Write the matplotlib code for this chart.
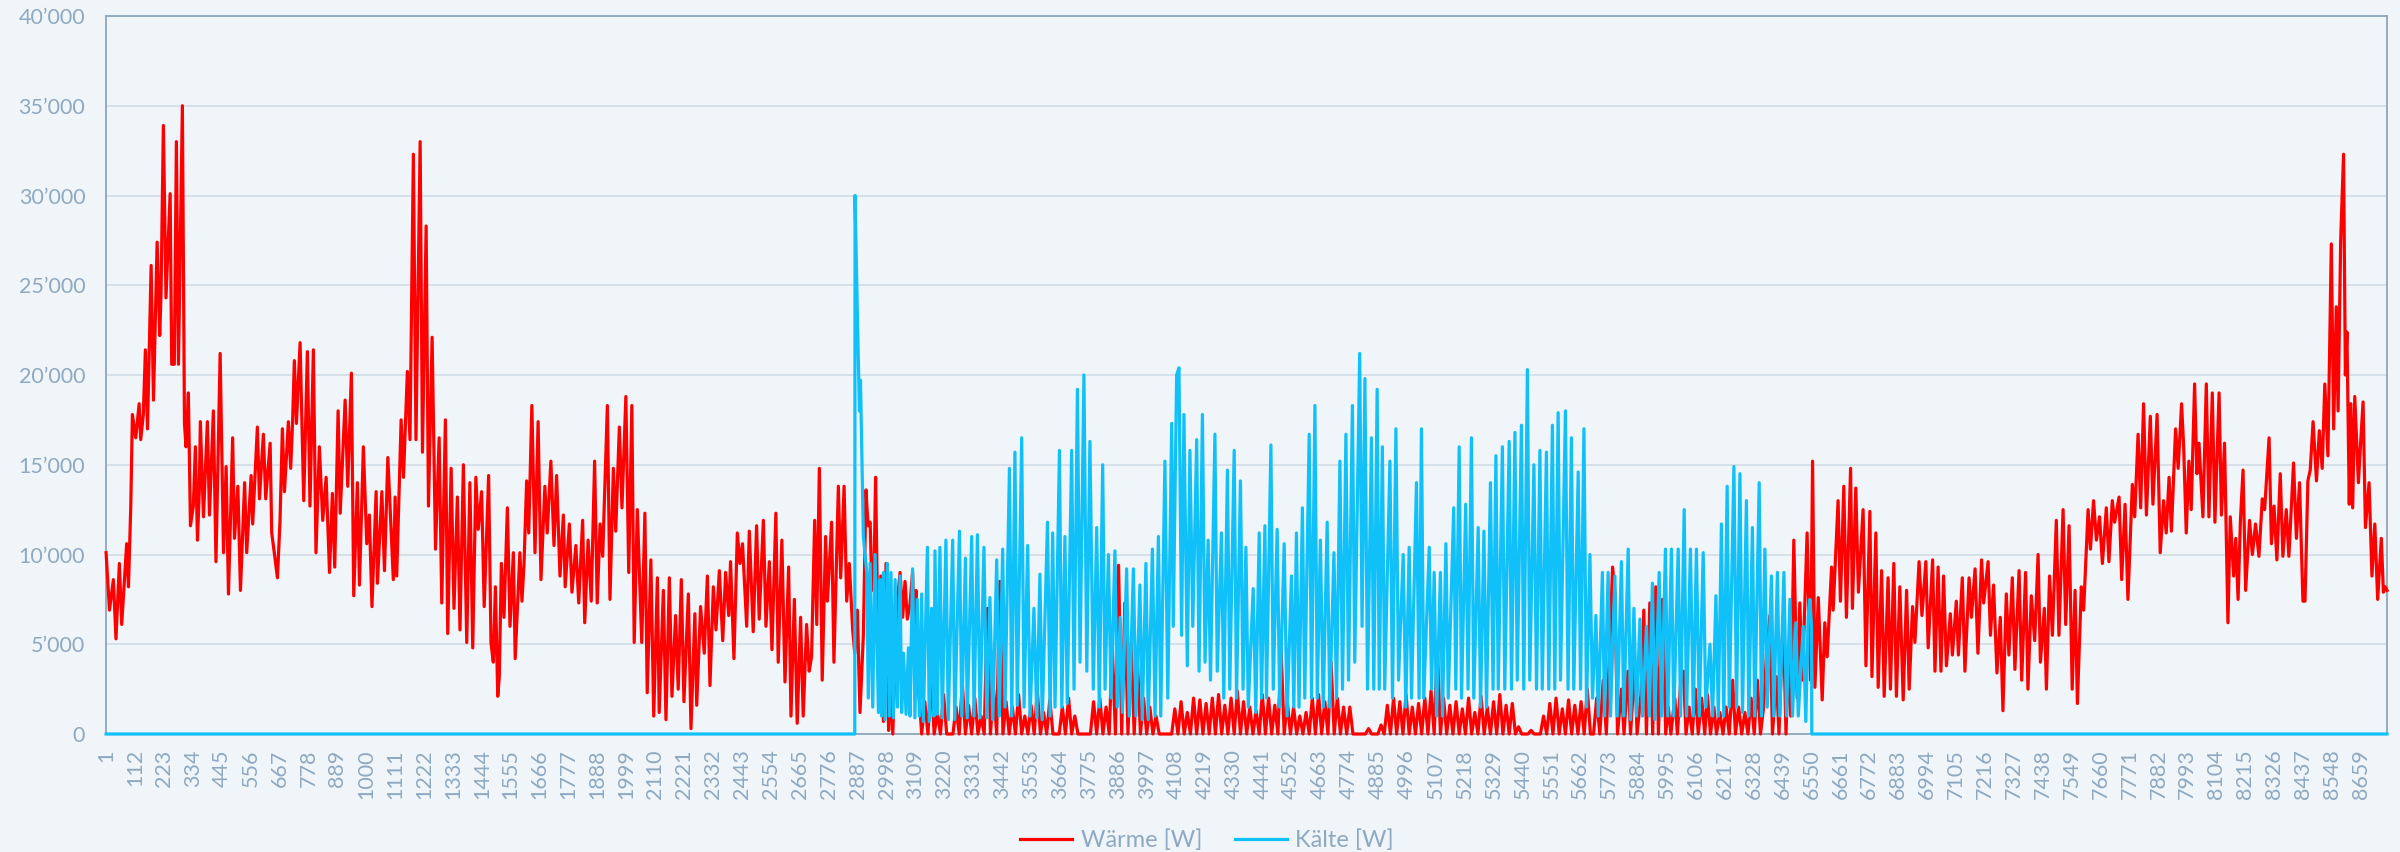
import matplotlib
matplotlib.use("Agg")
import matplotlib.pyplot as plt
import matplotlib.ticker as mticker
import numpy as np

plt.rcParams['font.family'] = ['Lato', 'DejaVu Sans']

fnt = 15.5
legend_fnt = 17
bg = '#f0f5f9'
txt_col = '#8ea9c1'
grid_col = '#d0dce6'
spine_col = '#8ea7bb'
rot = '#ff0000'
blau = '#10c0f8'

# Heizlast [W] (Stunde, Wert), Januar bis Ende April
waerme_winter = [
    (1, 10100), (14, 6900), (23, 7900), (29, 8600), (39, 5300), (52, 9500), (61, 6100), (80, 10600),
    (87, 8200), (96, 12800), (102, 17800), (115, 16500), (128, 18400), (134, 16400), (144, 17800),
    (152, 21400), (160, 17000), (174, 26100), (183, 18600), (197, 27400), (207, 22200), (212, 24500),
    (221, 33900), (231, 24300), (247, 30100), (253, 20600), (263, 20600), (271, 33000), (279, 20600),
    (294, 35000), (302, 17300), (308, 16000), (317, 19000), (325, 11600), (336, 12700), (344, 16000),
    (352, 10800), (359, 13600), (363, 17400), (375, 12100), (390, 17400), (398, 12200), (413, 18000),
    (423, 9600), (439, 21200), (452, 10100), (462, 14900), (471, 7800), (487, 16500), (494, 10900),
    (507, 13800), (517, 8000), (533, 14000), (541, 10100), (558, 14400), (564, 11700), (582, 17100),
    (590, 13100), (605, 16700), (614, 13100), (631, 16200), (637, 11200), (647, 10100), (659, 8700),
    (669, 11900), (678, 17000), (686, 13500), (701, 17400), (710, 14800), (717, 17300), (724, 20800),
    (732, 17300), (746, 21800), (760, 13000), (774, 21300), (784, 12700), (797, 21400), (807, 10100),
    (820, 16000), (833, 11900), (846, 14300), (859, 9000), (870, 13400), (879, 9300), (892, 18000),
    (900, 12300), (919, 18600), (929, 13800), (943, 20100), (952, 7700), (966, 14000), (974, 8300),
    (989, 16000), (1002, 10600), (1012, 12200), (1022, 7100), (1038, 13500), (1043, 8400),
    (1060, 13500), (1070, 9100), (1083, 15400), (1104, 8600), (1111, 13200), (1117, 8800),
    (1134, 17500), (1143, 14300), (1158, 20200), (1168, 16400), (1181, 32300), (1191, 16400),
    (1207, 33000), (1216, 15700), (1230, 28300), (1239, 12700), (1253, 22100), (1266, 10300),
    (1280, 16500), (1290, 7300), (1304, 17500), (1313, 5600), (1326, 14800), (1337, 7000),
    (1350, 13200), (1360, 5800), (1373, 15000), (1386, 5100), (1398, 14000), (1409, 4800),
    (1421, 14300), (1430, 11400), (1443, 13500), (1453, 7100), (1470, 14400), (1479, 5100),
    (1488, 4000), (1496, 8200), (1505, 2100), (1511, 3200), (1519, 9500), (1529, 6500),
    (1542, 12600), (1552, 6000), (1565, 10100), (1572, 4200), (1590, 10100), (1598, 7400),
    (1606, 9500), (1616, 14100), (1624, 11200), (1636, 18300), (1648, 10100), (1660, 17400),
    (1671, 8600), (1686, 13800), (1695, 11200), (1709, 15200), (1721, 10500), (1731, 14400),
    (1744, 8800), (1757, 12200), (1764, 8200), (1780, 11700), (1790, 7900), (1805, 10500),
    (1816, 7300), (1831, 11900), (1839, 6200), (1852, 10800), (1864, 7400), (1877, 15200),
    (1887, 7300), (1898, 11700), (1908, 9900), (1926, 18300), (1936, 7500), (1949, 14800),
    (1958, 11300), (1972, 17100), (1982, 12600), (1997, 18800), (2008, 9000), (2020, 18300),
    (2029, 5100), (2041, 12500), (2058, 5100), (2070, 12300), (2079, 2300), (2093, 9700),
    (2104, 1000), (2118, 8700), (2125, 1200), (2141, 8000), (2151, 800), (2164, 8700), (2174, 2100),
    (2188, 6600), (2198, 2500), (2210, 8600), (2220, 1800), (2237, 7800), (2247, 300), (2262, 6700),
    (2269, 1600), (2284, 7100), (2298, 4500), (2310, 8800), (2320, 2700), (2333, 8200), (2343, 5800),
    (2356, 9100), (2369, 5200), (2380, 9000), (2392, 6600), (2399, 9600), (2412, 4200),
    (2425, 11200), (2435, 9500), (2445, 10600), (2461, 6000), (2471, 11300), (2486, 5700),
    (2499, 11600), (2509, 6400), (2525, 11900), (2535, 6000), (2548, 9600), (2558, 4700),
    (2573, 12300), (2582, 4000), (2596, 10800), (2608, 2900), (2622, 9300), (2631, 1000),
    (2644, 7500), (2655, 600), (2668, 6500), (2678, 1000), (2691, 6100), (2701, 3500), (2710, 4300),
    (2722, 11900), (2730, 6100), (2740, 14800), (2751, 3000), (2764, 11000), (2771, 7400),
    (2787, 11800), (2796, 4000), (2813, 13800), (2822, 8700), (2835, 13800), (2845, 7400),
    (2855, 9500), (2868, 5800), (2876, 4500), (2886, 6900), (2896, 1200), (2909, 5500),
    (2919, 13600), (2927, 11600), (2935, 11800), (2942, 8000), (2950, 9000), (2956, 14300),
    (2967, 3500), (2976, 8800), (2986, 700), (2996, 9500), (3006, 200), (3014, 3000), (3022, 0),
    (3037, 7000), (3050, 9000), (3060, 6500), (3069, 8500), (3078, 6400), (3088, 7200),
    (3098, 9000), (3107, 4300), (3111, 8000),
]

# Sommer: Heizspitze am Morgen, danach 0 (12-h-Raster ab Stunde 3121)
waerme_sommer = [
    2500, 0, 1800, 0, 3000, 0, 1200, 0, 2200, 0, 0, 0, 1500, 0, 2800, 0, 1600, 0, 2000, 0,
    1000, 0, 7000, 0, 2500, 0, 8500, 0, 1800, 0, 1500, 0, 2200, 0, 1000, 0, 1600, 0, 2400, 0,
    1200, 0, 1900, 0, 0, 0, 1500, 0, 2000, 0, 1000, 0, 0, 0, 0, 0, 1800, 0, 2000, 0,
    1500, 0, 4800, 0, 9400, 0, 7300, 0, 5000, 0, 4200, 0, 2000, 0, 1500, 0, 1000, 0, 0, 0,
    0, 0, 1400, 0, 1800, 0, 1200, 0, 2000, 0, 1900, 0, 1700, 0, 2000, 0, 2200, 0, 1600, 0,
    2000, 0, 2400, 0, 1800, 0, 1500, 0, 1300, 0, 2200, 0, 2000, 0, 1600, 0, 4700, 0, 1800, 0,
    1500, 0, 1000, 0, 1200, 0, 2000, 0, 2200, 0, 1800, 0, 4000, 0, 2000, 0, 1500, 0, 1500, 0,
    0, 0, 0, 0, 300, 0, 0, 0, 500, 0, 1600, 0, 2000, 0, 1800, 0, 2200, 0, 1500, 0,
    1700, 0, 2000, 0, 2400, 0, 4800, 0, 2000, 0, 1600, 0, 1800, 0, 1400, 0, 2000, 0, 1200, 0,
    2100, 0, 1500, 0, 1800, 0, 2200, 0, 1600, 0, 1700, 0, 400, 0, 0, 0, 200, 0, 0, 0,
    1000, 0, 1700, 0, 2000, 0, 1400, 0, 1900, 0, 1600, 0, 1800, 0, 2500, 0,
]

# Herbst und Dezember
waerme_herbst = [
    (5713, 0), (5725, 2000), (5737, 0), (5750, 3000), (5762, 0), (5776, 5100), (5786, 9300),
    (5795, 7900), (5805, 0), (5820, 2500), (5830, 0), (5845, 3500), (5855, 0), (5872, 4000),
    (5880, 0), (5895, 2200), (5906, 6900), (5916, 0), (5929, 7300), (5940, 0), (5952, 8200),
    (5962, 0), (5978, 7500), (5990, 0), (6000, 1500), (6010, 0), (6025, 2000), (6035, 0),
    (6048, 3000), (6058, 3500), (6068, 0), (6080, 1500), (6092, 0), (6104, 2500), (6115, 0),
    (6128, 2000), (6140, 0), (6150, 2200), (6162, 0), (6175, 1500), (6185, 0), (6198, 1200),
    (6210, 0), (6222, 1500), (6234, 0), (6247, 3000), (6258, 0), (6270, 1500), (6282, 0),
    (6294, 1200), (6306, 0), (6318, 2000), (6330, 0), (6342, 3000), (6354, 0), (6366, 1500),
    (6377, 4500), (6390, 6600), (6400, 0), (6415, 3200), (6425, 0), (6441, 6600), (6452, 0),
    (6462, 4800), (6470, 1000), (6482, 10800), (6495, 2000), (6505, 7300), (6515, 3000),
    (6533, 11200), (6546, 3000), (6554, 15200), (6563, 2600), (6576, 7600), (6591, 1900),
    (6601, 6200), (6610, 4300), (6627, 9300), (6633, 6900), (6652, 13000), (6661, 7400),
    (6674, 13800), (6684, 6500), (6700, 14800), (6707, 7000), (6720, 13700), (6730, 7900),
    (6748, 12500), (6759, 3800), (6774, 12400), (6782, 3200), (6797, 11200), (6806, 2600),
    (6819, 9100), (6829, 2100), (6844, 8700), (6853, 2500), (6866, 9500), (6876, 2100),
    (6889, 8200), (6902, 1900), (6915, 8000), (6925, 2500), (6938, 7100), (6947, 5100),
    (6963, 9600), (6974, 6600), (6989, 9600), (6998, 4800), (7015, 9700), (7024, 3500),
    (7036, 9300), (7047, 3500), (7057, 8800), (7068, 3800), (7083, 6700), (7091, 4400),
    (7106, 7400), (7114, 4400), (7129, 8700), (7139, 3500), (7155, 8700), (7164, 6500),
    (7178, 9200), (7189, 4500), (7203, 9700), (7211, 7300), (7228, 9600), (7237, 5500),
    (7249, 8300), (7262, 3400), (7275, 6500), (7285, 1300), (7298, 7800), (7308, 4400),
    (7321, 8700), (7331, 3600), (7347, 9100), (7357, 3000), (7372, 9000), (7381, 2500),
    (7394, 7700), (7407, 5200), (7420, 10000), (7429, 4000), (7444, 7000), (7452, 2500),
    (7464, 8800), (7475, 5500), (7490, 11900), (7500, 5500), (7516, 12500), (7526, 6100),
    (7539, 11600), (7551, 2500), (7562, 8000), (7571, 1700), (7586, 8200), (7595, 6900),
    (7612, 12500), (7621, 10300), (7633, 13000), (7644, 10800), (7656, 12100), (7667, 9500),
    (7682, 12600), (7692, 9600), (7705, 13000), (7714, 11800), (7731, 13200), (7741, 8600),
    (7754, 12800), (7765, 7500), (7782, 13900), (7791, 12100), (7804, 16700), (7814, 12600),
    (7825, 18400), (7836, 12200), (7851, 17700), (7861, 12800), (7877, 17800), (7889, 10100),
    (7902, 13000), (7912, 11200), (7923, 14300), (7932, 11300), (7948, 17000), (7958, 14800),
    (7971, 18400), (7979, 16000), (7989, 11200), (7999, 15200), (8008, 12500), (8021, 19500),
    (8030, 14500), (8038, 16200), (8053, 12100), (8066, 19500), (8076, 12100), (8089, 19000),
    (8099, 11800), (8115, 19000), (8124, 12200), (8136, 16200), (8149, 6200), (8158, 12100),
    (8171, 8800), (8179, 10900), (8188, 7500), (8197, 11900), (8207, 14700), (8217, 8000),
    (8232, 11900), (8243, 10000), (8255, 11700), (8268, 9900), (8281, 13100), (8290, 12500),
    (8307, 16500), (8316, 10600), (8326, 12700), (8337, 9700), (8350, 14500), (8360, 9900),
    (8373, 12500), (8383, 9900), (8401, 15100), (8412, 10900), (8424, 14000), (8437, 7400),
    (8445, 7400), (8456, 14100), (8465, 14700), (8476, 17400), (8489, 14100), (8500, 16900),
    (8511, 14800), (8521, 19500), (8533, 15500), (8546, 27300), (8555, 17000), (8565, 23800),
    (8572, 18000), (8582, 27500), (8593, 32300), (8600, 20000), (8606, 22400), (8615, 12800),
    (8621, 18400), (8628, 12600), (8636, 18800), (8650, 14000), (8658, 16100), (8668, 18500),
    (8677, 11500), (8691, 14000), (8702, 8800), (8713, 11700), (8724, 7500), (8738, 10900),
    (8746, 7900), (8753, 8200), (8760, 8000),
]

# Kuehllast [W] (Stunde, Wert)
kaelte = [
    (1, 0), (2876, 0), (2877, 30000), (2886, 23400), (2894, 18000), (2898, 19700), (2904, 15000),
    (2909, 11000), (2922, 9000), (2928, 2000), (2935, 9500), (2945, 1500), (2954, 10000),
    (2967, 1200), (2973, 8600), (2979, 1000), (2986, 9000), (2992, 800), (3001, 9500), (3009, 1000),
    (3015, 9000), (3024, 900), (3031, 8600), (3040, 1500), (3050, 8800), (3056, 1200), (3063, 4500),
    (3073, 1100), (3082, 4800), (3088, 1000), (3098, 9200), (3107, 900), (3116, 7500), (3124, 1000),
    (3133, 7800), (3139, 700), (3155, 10400), (3162, 700), (3171, 7000), (3180, 1000),
    (3184, 10200), (3193, 1100), (3203, 10400), (3212, 900), (3226, 10800), (3235, 800),
    (3252, 10800), (3260, 800), (3278, 11300), (3287, 1000), (3301, 9800), (3308, 900),
    (3325, 11000), (3334, 1000), (3347, 11100), (3357, 900), (3372, 10400), (3383, 900),
    (3395, 7600), (3406, 800), (3421, 9700), (3431, 1000), (3444, 10300), (3453, 1500),
    (3470, 14800), (3479, 1000), (3491, 15700), (3500, 1600), (3517, 16500), (3526, 1500),
    (3540, 10500), (3549, 1000), (3564, 7000), (3575, 900), (3587, 8900), (3596, 800),
    (3616, 11800), (3626, 1000), (3636, 11200), (3645, 1500), (3662, 15800), (3671, 1500),
    (3683, 11000), (3692, 1700), (3709, 15800), (3718, 2500), (3731, 19200), (3741, 4000),
    (3756, 20000), (3767, 3500), (3779, 16300), (3792, 2500), (3805, 11500), (3815, 1500),
    (3828, 15000), (3837, 2500), (3850, 10000), (3860, 2000), (3875, 10200), (3884, 1500),
    (3895, 6500), (3904, 1200), (3920, 9200), (3930, 1000), (3946, 9200), (3956, 1000),
    (3971, 8300), (3980, 800), (3994, 9500), (4003, 800), (4019, 10300), (4029, 1000),
    (4042, 11000), (4051, 1000), (4067, 15200), (4078, 2000), (4093, 17300), (4099, 6000),
    (4112, 20000), (4121, 20400), (4131, 5500), (4140, 17800), (4153, 3800), (4163, 15800),
    (4174, 6000), (4189, 16400), (4198, 3500), (4211, 17800), (4221, 4000), (4233, 10800),
    (4242, 3000), (4259, 16700), (4268, 3500), (4284, 11200), (4293, 2000), (4307, 14700),
    (4316, 2500), (4333, 15800), (4342, 2000), (4357, 14100), (4367, 2500), (4378, 10400),
    (4387, 1500), (4406, 8100), (4416, 1200), (4429, 11200), (4438, 2000), (4451, 11600),
    (4457, 2000), (4474, 16100), (4483, 2500), (4498, 11400), (4508, 1500), (4525, 10600),
    (4536, 1000), (4553, 8800), (4562, 1500), (4572, 11200), (4582, 1500), (4595, 12600),
    (4604, 2000), (4621, 16700), (4630, 2000), (4643, 18300), (4652, 2000), (4664, 10800),
    (4675, 1500), (4690, 11800), (4700, 1500), (4716, 10100), (4726, 2000), (4739, 15200),
    (4749, 2500), (4762, 16700), (4772, 3000), (4787, 18300), (4796, 4000), (4815, 21200),
    (4824, 6000), (4835, 19800), (4845, 2500), (4860, 16500), (4869, 2500), (4882, 19200),
    (4890, 2500), (4902, 16000), (4911, 2500), (4931, 15200), (4941, 2000), (4954, 17000),
    (4964, 3000), (4982, 10000), (4992, 1500), (5005, 10400), (5014, 2000), (5033, 14000),
    (5043, 2000), (5052, 17000), (5061, 2000), (5082, 10400), (5091, 2500), (5101, 9000),
    (5110, 1000), (5125, 9000), (5133, 1000), (5146, 10600), (5155, 2000), (5176, 12600),
    (5184, 2500), (5197, 16000), (5206, 2000), (5222, 12800), (5231, 2500), (5244, 16500),
    (5253, 2000), (5270, 11500), (5279, 1500), (5292, 11300), (5302, 1500), (5317, 14000),
    (5327, 2500), (5338, 15500), (5347, 2500), (5363, 16000), (5372, 2500), (5389, 16300),
    (5398, 2500), (5411, 16800), (5420, 3000), (5436, 17200), (5445, 2500), (5459, 20300),
    (5468, 3000), (5484, 15000), (5494, 2500), (5507, 15800), (5516, 2500), (5532, 15700),
    (5541, 2500), (5555, 17200), (5564, 2500), (5577, 17900), (5586, 3000), (5605, 18000),
    (5615, 2500), (5628, 16500), (5637, 2500), (5654, 14600), (5663, 2500), (5676, 17000),
    (5686, 1500), (5699, 10000), (5709, 2000), (5722, 6600), (5731, 1000), (5747, 9000),
    (5755, 1000), (5769, 9000), (5778, 1000), (5795, 8800), (5804, 1000), (5820, 9600),
    (5829, 1000), (5846, 10300), (5855, 800), (5868, 7000), (5878, 1000), (5891, 6400),
    (5901, 1000), (5916, 6000), (5927, 1000), (5939, 8400), (5948, 800), (5965, 9000),
    (5974, 1000), (5989, 10300), (5998, 1000), (6012, 10300), (6021, 1000), (6038, 10300),
    (6047, 1000), (6061, 12500), (6070, 1000), (6085, 10300), (6096, 1000), (6108, 10300),
    (6119, 1000), (6134, 10100), (6144, 1500), (6160, 5000), (6170, 1000), (6183, 7700),
    (6192, 1000), (6204, 11700), (6213, 1000), (6226, 13800), (6234, 1500), (6252, 14900),
    (6262, 1500), (6275, 14500), (6285, 1200), (6300, 13000), (6309, 1000), (6323, 11500),
    (6332, 1000), (6349, 14000), (6358, 1000), (6371, 10300), (6380, 1500), (6396, 8800),
    (6405, 1000), (6419, 9000), (6428, 1000), (6444, 9000), (6454, 1000), (6467, 7500),
    (6477, 1000), (6490, 6200), (6499, 1000), (6518, 6000), (6528, 700), (6537, 6500),
    (6544, 7500), (6550, 6000), (6551, 0), (8760, 0),
]

n_stunden = 8760
tick_start, tick_step = 1, 111

# Sommer-Raster in Stunden
h_sommer = np.arange(3121, 3121 + 12 * len(waerme_sommer), 12)
h_w = [p[0] for p in waerme_winter] + list(h_sommer) + [p[0] for p in waerme_herbst]
w_w = [p[1] for p in waerme_winter] + waerme_sommer + [p[1] for p in waerme_herbst]
h_k = [p[0] for p in kaelte]
w_k = [p[1] for p in kaelte]

fig = plt.figure(figsize=(24, 8.52), dpi=100, facecolor=bg)
ax = fig.add_axes([0.0442, 0.1385, 0.9504, 0.8427], facecolor=bg)

ax.plot(h_w, w_w, color=rot, linewidth=2.3, label='Wärme [W]', clip_on=False, zorder=3)
ax.plot(h_k, w_k, color=blau, linewidth=2.3, label='Kälte [W]', clip_on=False, zorder=4)

ax.set_xlim(1, n_stunden)
ax.set_ylim(0, 40000)
ax.set_yticks(np.arange(0, 40001, 5000))
ax.yaxis.set_major_formatter(mticker.FuncFormatter(lambda v, p: f"{int(v):,}".replace(",", "\u2019")))
xt = np.arange(tick_start, n_stunden, tick_step)
ax.set_xticks(xt)
ax.set_xticklabels([str(t) for t in xt], rotation=90)

ax.tick_params(axis='y', length=0, pad=15, labelsize=fnt, labelcolor=txt_col)
ax.tick_params(axis='x', length=0, pad=11, labelsize=fnt, labelcolor=txt_col)
ax.grid(axis='y', color=grid_col, linewidth=1.2, zorder=0)
ax.set_axisbelow(True)
for s in ax.spines.values():
    s.set_color(spine_col)
    s.set_linewidth(1.3)

fig.legend(loc='center', bbox_to_anchor=(0.503, 0.014), ncol=2, frameon=False,
           fontsize=legend_fnt, labelcolor=txt_col, handlelength=2.2, handletextpad=0.35,
           columnspacing=1.4, borderpad=0)

fig.savefig('out.png', dpi=100, facecolor=bg)
plt.close(fig)
